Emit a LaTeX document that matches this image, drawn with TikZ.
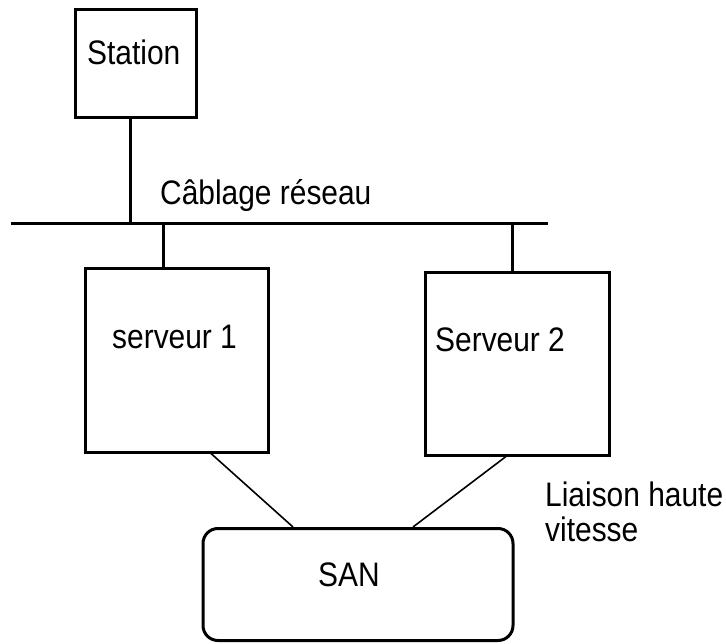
\documentclass[tikz,border=0pt]{standalone}
\usepackage{fontspec}
\setmainfont[FakeStretch=0.88]{Liberation Sans}
\begin{document}
\begin{tikzpicture}[x=1pt,y=-1pt,
  box/.style={draw,line width=3pt,rectangle,inner sep=0pt},
  wire/.style={line width=3pt},
  link/.style={line width=1.6pt},
  txt/.style={inner sep=0pt,anchor=base west,font=\fontsize{34}{36}\selectfont}]
\useasboundingbox (0,0) rectangle (726,644);
% boxes
\node[box,minimum width=121pt,minimum height=108pt] (station) at (135.5,64) {};
\node[box,minimum width=183pt,minimum height=183pt] (s1) at (176.5,360.5) {};
\node[box,minimum width=184pt,minimum height=182pt] (s2) at (517,364) {};
\node[box,rounded corners=15pt,minimum width=310pt,minimum height=112pt] (san) at (358,584.5) {};
% texts
\node[txt] (tstation) at (87,65) {Station};
\node[txt] (tbus) at (160,205) {Câblage réseau};
\node[txt] (ts1) at (112,349) {serveur 1};
\node[txt] (ts2) at (435,352) {Serveur 2};
\node[txt] (tsan) at (318,586) {SAN};
\node[txt] (tl1) at (545,506) {Liaison haute};
\node[txt] (tl2) at (545,541) {vitesse};
% bus
\coordinate (busL) at (11,224);
\coordinate (busR) at (548,224);
\coordinate (j1) at (130,224);
\coordinate (j2) at (163,224);
\coordinate (j3) at (512,224);
\draw[wire] (busL) -- (busR);
\draw[wire] (j1 |- station.south) -- (j1);
\draw[wire] (j2) -- (j2 |- s1.north);
\draw[wire] (j3) -- (j3 |- s2.north);
% links
\draw[link] ([xshift=34.5pt]s1.south) -- ([xshift=-65pt]san.north);
\draw[link] ([xshift=-11pt]s2.south) -- ([xshift=55pt]san.north);
\end{tikzpicture}
\end{document}
